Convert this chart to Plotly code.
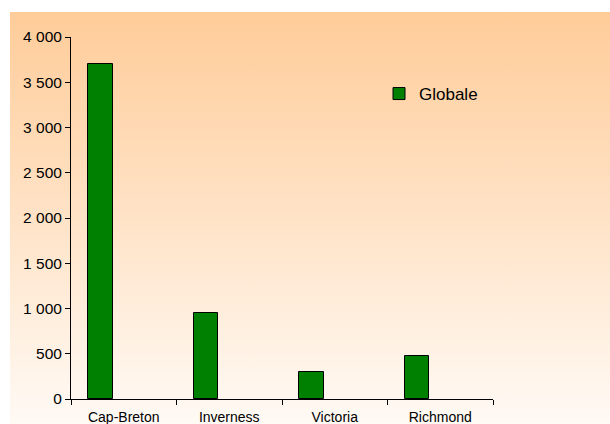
import base64
import plotly.graph_objects as go

# Population by county
categories = ["Cap-Breton", "Inverness", "Victoria", "Richmond"]
globale = [3700, 950, 300, 470]
y_ticks = [0, 500, 1000, 1500, 2000, 2500, 3000, 3500, 4000]

FONT = "Liberation Sans, Arial, sans-serif"
W, H = 610, 424
M_L, M_R, M_T, M_B = 71, 117, 37, 25
PW, PH = W - M_L - M_R, H - M_T - M_B

# Peach-to-white vertical gradient behind the chart
svg = (
    "<svg xmlns='http://www.w3.org/2000/svg' width='600' height='412' "
    "preserveAspectRatio='none'><defs><linearGradient id='g' x1='0' y1='0' "
    "x2='0' y2='1'><stop offset='0' stop-color='#FFCC99'/>"
    "<stop offset='1' stop-color='#FFFAF5'/></linearGradient></defs>"
    "<rect width='100%' height='100%' fill='url(#g)'/></svg>"
)
bg_src = "data:image/svg+xml;base64," + base64.b64encode(svg.encode()).decode()


def px_x(p):
    return (p - M_L) / PW


def px_y(p):
    return (H - M_B - p) / PH


fig = go.Figure()
fig.add_trace(go.Bar(
    x=categories,
    y=globale,
    name="Globale",
    width=0.23,
    offset=-0.335,
    marker=dict(color="#008000", line=dict(color="#000000", width=1)),
))

fig.add_layout_image(dict(
    source=bg_src,
    xref="paper", yref="paper",
    x=px_x(10), y=px_y(12),
    sizex=px_x(610) - px_x(10), sizey=px_y(12) - px_y(424),
    xanchor="left", yanchor="top",
    sizing="stretch", layer="below",
))

fig.update_layout(
    width=W, height=H,
    margin=dict(l=M_L, r=M_R, t=M_T, b=M_B, pad=0, autoexpand=False),
    paper_bgcolor="#FFFFFF",
    plot_bgcolor="rgba(0,0,0,0)",
    separators=", ",
    font=dict(family=FONT, color="#000000", size=14),
    showlegend=True,
    legend=dict(
        x=px_x(379), y=px_y(76), xanchor="left", yanchor="top",
        bgcolor="rgba(0,0,0,0)", borderwidth=0,
        font=dict(family=FONT, size=17, color="#000000"),
    ),
    bargap=0,
)

fig.update_xaxes(
    type="category",
    automargin=False,
    showline=True, linecolor="#000000", linewidth=1,
    ticks="outside", ticklen=5, tickcolor="#000000", tickwidth=1,
    tickson="boundaries",
    ticklabelstandoff=5,
    showgrid=False, zeroline=False,
    tickfont=dict(family=FONT, size=14, color="#000000"),
)

fig.update_yaxes(
    range=[0, 4000],
    automargin=False,
    tickvals=y_ticks,
    tickformat=",d",
    showline=True, linecolor="#000000", linewidth=1,
    ticks="outside", ticklen=5, tickcolor="#000000", tickwidth=1,
    showgrid=False, zeroline=False,
    tickfont=dict(family=FONT, size=15.5, color="#000000"),
)

fig.write_html("out.html")
